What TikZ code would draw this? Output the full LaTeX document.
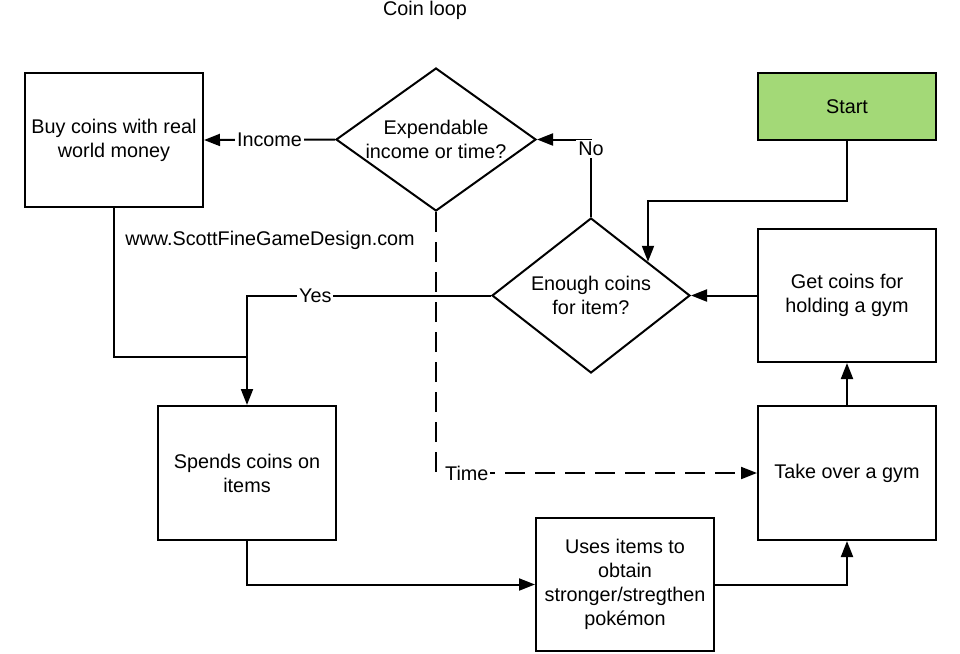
\documentclass[tikz,border=0pt]{standalone}
\usepackage{fontspec}
\setmainfont{Liberation Sans}
\usepackage{xcolor}
\usetikzlibrary{shapes.geometric,arrows.meta,calc}
\definecolor{Ink}{HTML}{000000}
\definecolor{StartGreen}{HTML}{A3D977}

\begin{document}
\begin{tikzpicture}[x=0.5pt,y=-0.5pt,line width=1pt,
    font=\fontsize{9.9}{12}\selectfont,
    box/.style={draw=Ink,fill=white,minimum width=89pt,minimum height=67pt,align=center,inner sep=1pt},
    decision/.style={draw=Ink,fill=white,diamond,aspect=1.4,inner sep=0pt,align=center},
    flow/.style={draw=Ink,-{Triangle[length=8pt,width=6pt]}},
    lbl/.style={fill=white,inner sep=1pt}]
  \fill[white] (0,0) rectangle (960,654);
  \useasboundingbox (0,0) rectangle (960,654);
  \node (title) at (425,10) {Coin loop};
  \node[box] (buy) at (114,140) {Buy coins with real\\world money};
  \node[decision,minimum width=100pt,minimum height=71.5pt] (expend) at (436,139.5) {Expendable\\income or time?};
  \node[box,fill=StartGreen,minimum height=33.5pt] (start) at (847,106.5) {Start};
  \node[decision,minimum width=99pt,minimum height=77.5pt] (enough) at (591,295.5) {Enough coins\\for item?};
  \node[box,minimum height=66.5pt] (getcoins) at (847,295.5) {Get coins for\\holding a gym};
  \node[box] (spends) at (247,473) {Spends coins on\\items};
  \node[box] (takeover) at (847,473) {Take over a gym};
  \node[box,minimum height=66.5pt] (uses) at (625,584.5) {Uses items to\\obtain\\stronger/stregthen\\pokémon};
  \node (site) at (270,240) {www.ScottFineGameDesign.com};
  \coordinate (join) at (247,357);
  \coordinate (enoughin) at ($(enough.north)!0.57!(enough.east)$);

  \draw[flow] (expend.west) -- node[lbl] {Income} (buy.east);
  \draw[flow] (enough.north) |- node[lbl,pos=0.44] {No} (expend.east);
  \draw[flow] (start.south) -- ++(0,60) -| (enoughin);
  \draw[flow] (getcoins.west) -- (enough.east);
  \draw[flow] (enough.west) -| node[lbl,pos=0.36] {Yes} (spends.north);
  \draw (buy.south) |- (join);
  \draw[flow,dash pattern=on 10pt off 5pt] (expend.south) |- node[lbl,pos=0.548] {Time} (takeover.west);
  \draw[flow] (spends.south) |- (uses.west);
  \draw[flow] (uses.east) -| (takeover.south);
  \draw[flow] (takeover.north) -- (getcoins.south);
\end{tikzpicture}
\end{document}
